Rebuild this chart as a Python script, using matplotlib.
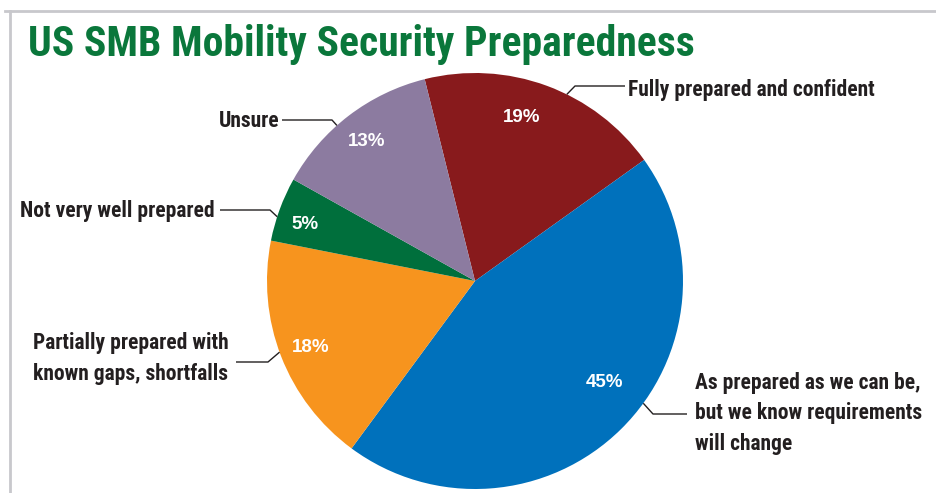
import matplotlib
matplotlib.use('Agg')
import matplotlib.pyplot as plt
from matplotlib import font_manager
from matplotlib.lines import Line2D
import numpy as np

# ---- data ----
categories = ["Fully prepared and confident",
              "As prepared as we can be,\nbut we know requirements\nwill change",
              "Partially prepared with\nknown gaps, shortfalls",
              "Not very well prepared",
              "Unsure"]
values = [19, 45, 18, 5, 13]
colors = ["#881A1C", "#0071BC", "#F7941E", "#006F3C", "#8C7BA0"]
title = "US SMB Mobility Security Preparedness"

# ---- fonts ----
avail = {f.name for f in font_manager.fontManager.ttflist}
narrow = None
for cand in ["Liberation Sans Narrow", "DejaVu Sans Condensed", "Roboto Condensed", "Open Sans Condensed", "Liberation Sans"]:
    if cand in avail:
        narrow = cand
        break
if narrow is None:
    narrow = "DejaVu Sans"
pct_font = "Liberation Sans" if "Liberation Sans" in avail else "DejaVu Sans"

W, H = 936, 493
fig = plt.figure(figsize=(W / 100, H / 100), dpi=100)
ax = fig.add_axes([0, 0, 1, 1])


def Y(y):
    return H - y


cx, cy, R = 475, Y(281), 208
wedges, texts, autotexts = ax.pie(
    values, colors=colors, startangle=104, counterclock=False,
    center=(cx, cy), radius=R, autopct=lambda p: f"{p:.0f}%",
    pctdistance=0.83, wedgeprops=dict(linewidth=0), frame=True,
    textprops=dict(color='white', fontsize=13.5, fontweight='bold', family=pct_font))
ax.set_xlim(0, W)
ax.set_ylim(0, H)
ax.set_aspect('equal')
ax.axis('off')

# percentage label placement (angle offset from wedge mid, radius fraction)
pct_layout = [(4.2, 0.82), (7.4, 0.79), (0.8, 0.85), (1.9, 0.86), (0.6, 0.85)]
for w, t, (off, rf) in zip(wedges, autotexts, pct_layout):
    a = np.deg2rad((w.theta1 + w.theta2) / 2 + off)
    t.set_position((cx + rf * R * np.cos(a), cy + rf * R * np.sin(a)))

# ---- labels with leader lines (layout) ----
# (angle offset from wedge mid, elbow x, elbow y, line end x, text x, last baseline y, ha)
layout = [
    (-6.0, 575, 86, 625, 628, 96, 'left'),
    (9.4, 653, 414, 687, 695, 450, 'left'),
    (-1.2, 268, 362, 236, 229, 380, 'right'),
    (2.2, 270, 210, 220, 215, 217, 'right'),
    (4.2, 332, 120, 282, 279, 127, 'right'),
]
ink = "#231F20"
for w, lab, (off, ex, ey, lx, tx, ty, ha) in zip(wedges, categories, layout):
    mid = np.deg2rad((w.theta1 + w.theta2) / 2 + off)
    ax_ = cx + R * np.cos(mid)
    ay_ = cy + R * np.sin(mid)
    ax.plot([ax_, ex, lx], [ay_, Y(ey), Y(ey)], color=ink, lw=1.0,
            solid_capstyle='butt', zorder=5)
    ax.text(tx, Y(ty), lab, ha=ha, va='baseline', multialignment='left',
            fontsize=15.5, fontweight='bold', family=narrow, color=ink,
            linespacing=1.5)

# ---- title ----
ax.text(28, Y(56), title, ha='left', va='baseline', fontsize=30,
        fontweight='bold', family=narrow, color="#0A773B")

# ---- frame ----
fig.add_artist(Line2D([5 / W, 1], [Y(11) / H] * 2, transform=fig.transFigure,
                      color='#C8C8CC', lw=2))
fig.add_artist(Line2D([9.5 / W] * 2, [0, Y(11) / H], transform=fig.transFigure,
                      color='#C8C8CC', lw=2))

fig.savefig("out.png", dpi=100)
